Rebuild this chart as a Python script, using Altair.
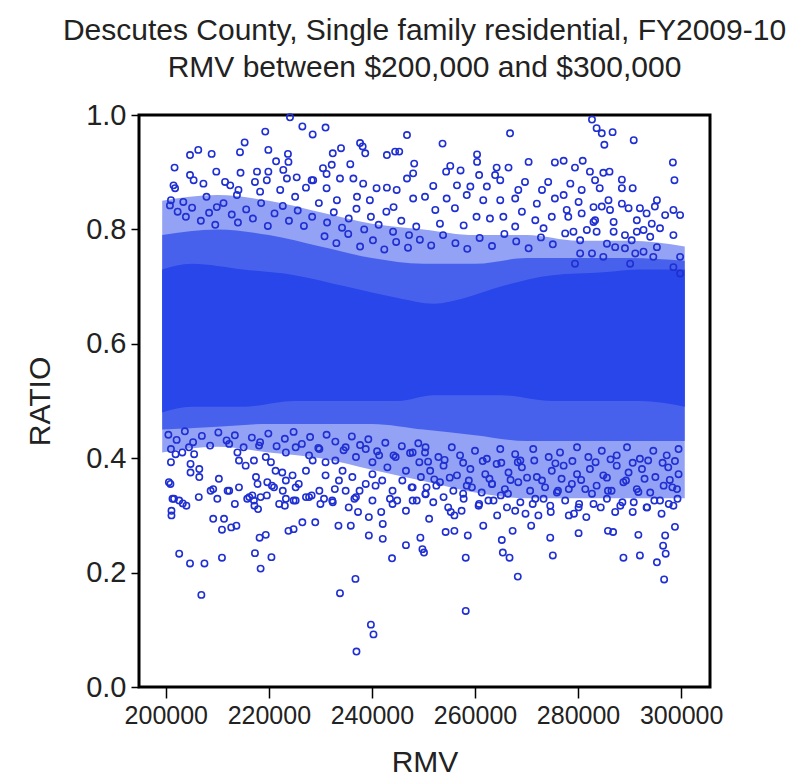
import altair as alt
import pandas as pd

FONT = "Liberation Sans"
PT = "#1f2fd2"
CORE = "#2846ea"

# ---- dense core of the cloud (solid band) ----
core_rmv = [199300, 205000, 215000, 225000, 235000, 245000, 252000, 258000, 265000, 275000, 285000, 292000, 300700]
core_high = [0.73, 0.74, 0.73, 0.72, 0.70, 0.68, 0.67, 0.68, 0.70, 0.72, 0.725, 0.73, 0.73]
core_low = [0.48, 0.49, 0.49, 0.50, 0.50, 0.50, 0.51, 0.51, 0.51, 0.50, 0.50, 0.50, 0.49]

# ---- semi-dense fringe around the core ----
fringe_rmv = [199300, 210000, 220000, 230000, 240000, 250000, 260000, 270000, 280000, 290000, 300700]
inner_high = [0.79, 0.80, 0.79, 0.77, 0.75, 0.74, 0.74, 0.75, 0.75, 0.75, 0.745]
inner_low = [0.45, 0.455, 0.46, 0.46, 0.46, 0.45, 0.44, 0.43, 0.43, 0.43, 0.43]
outer_high = [0.85, 0.86, 0.85, 0.83, 0.81, 0.80, 0.79, 0.79, 0.78, 0.78, 0.77]
outer_low = [0.41, 0.42, 0.41, 0.40, 0.38, 0.36, 0.34, 0.33, 0.33, 0.33, 0.33]

# ---- scattered points above the core ----
upper_rmv = [
    224100, 226500, 228500, 231000, 219300, 215300, 206300, 204700, 208900, 214400,
    219900, 223700, 221400, 223800, 201700, 209800, 214500, 217700, 219900, 222800,
    225400, 228300, 230500, 231200, 232200, 232400, 234000, 235800, 237700, 238200,
    238700, 242900, 244500, 245300, 246800, 248200, 248000, 236400, 238300, 201500,
    204700, 205400, 201800, 207300, 211500, 212500, 214100, 217300, 219600, 223500,
    227200, 228600, 233800, 237100, 240900, 242900, 244800, 246800, 201000, 203400,
    207900, 209900, 213800, 218300, 222200, 225100, 231200, 233200, 239600, 244200,
    248000,
    282700, 283600, 266800, 253700, 260400, 260400, 270400, 275500, 277200, 280900,
    255200, 264200, 266500, 279400, 282300, 254400, 257200, 260800, 263900, 264900,
    269700, 274200, 278500, 283300, 251900, 256500, 259100, 262300, 268400, 273000,
    277200, 280700, 250300, 254500, 258400, 261600, 264900, 267800, 272000, 275500,
    280100, 283000, 252300, 256100, 260300, 262900, 265500, 269100, 271700, 274900,
    277800, 280700, 283300, 253200, 257800, 267800, 273300, 279100, 281700,
    284600, 286700, 290800, 285100, 298400, 298700, 284900, 286100, 288500, 290600,
    288500, 284200, 285900, 284600, 286200, 288500, 289800, 292000, 293300, 295300,
    294900, 296900, 298500, 299800, 278100, 283000, 286900, 291400, 294300, 295900,
    298500, 299800, 277500, 280400, 283600, 285600, 286900, 289100, 290400, 291400,
    292700, 294000, 295300, 291100, 292700, 287200, 289100, 284900, 282700, 280400,
    279400, 290100, 294600, 298500, 299800,
    200800, 202300, 203900, 205100, 206800, 208400, 209600, 211200, 212800, 214000,
    215600, 216900, 218500, 219800, 221100, 222700, 223900, 225600, 226800, 228400,
    229700, 231300, 232600, 234200, 235500, 237000, 238500, 239800, 241300, 242800,
    244100, 245700, 247200, 248600,
    230800, 233100, 235400, 237700, 240200, 242400, 244700, 247000, 249300, 251500,
    253800, 256200, 258500, 260900, 263300, 265700, 268000, 270400, 272800, 275100,
]
upper_ratio = [
    0.996, 0.980, 0.966, 0.978, 0.971, 0.952, 0.939, 0.930, 0.932, 0.935,
    0.939, 0.932, 0.919, 0.918, 0.908, 0.901, 0.899, 0.901, 0.901, 0.904,
    0.891, 0.886, 0.907, 0.897, 0.913, 0.933, 0.942, 0.914, 0.951, 0.945,
    0.933, 0.930, 0.936, 0.936, 0.965, 0.915, 0.898, 0.889, 0.880, 0.877,
    0.895, 0.886, 0.872, 0.880, 0.883, 0.877, 0.869, 0.883, 0.886, 0.889,
    0.873, 0.886, 0.889, 0.857, 0.872, 0.873, 0.869, 0.889, 0.851, 0.848,
    0.857, 0.839, 0.860, 0.866, 0.869, 0.857, 0.872, 0.851, 0.851, 0.839,
    0.854,
    0.992, 0.977, 0.968, 0.950, 0.931, 0.918, 0.918, 0.917, 0.920, 0.920,
    0.911, 0.908, 0.908, 0.908, 0.901, 0.901, 0.903, 0.895, 0.895, 0.886,
    0.883, 0.883, 0.880, 0.886, 0.876, 0.877, 0.875, 0.875, 0.869, 0.869,
    0.860, 0.869, 0.857, 0.854, 0.860, 0.851, 0.851, 0.854, 0.845, 0.854,
    0.848, 0.839, 0.834, 0.837, 0.822, 0.819, 0.822, 0.831, 0.816, 0.822,
    0.834, 0.828, 0.816, 0.810, 0.807, 0.805, 0.802, 0.796, 0.799,
    0.968, 0.970, 0.956, 0.948, 0.917, 0.886, 0.899, 0.901, 0.887, 0.872,
    0.872, 0.872, 0.851, 0.840, 0.834, 0.845, 0.837, 0.837, 0.828, 0.851,
    0.840, 0.825, 0.834, 0.825, 0.822, 0.813, 0.813, 0.816, 0.810, 0.802,
    0.790, 0.752, 0.793, 0.781, 0.796, 0.775, 0.796, 0.790, 0.781, 0.796,
    0.799, 0.787, 0.769, 0.758, 0.761, 0.769, 0.767, 0.752, 0.758, 0.758,
    0.740, 0.740, 0.752, 0.734, 0.723,
    0.842, 0.831, 0.822, 0.838, 0.815, 0.829, 0.808, 0.846, 0.826, 0.812,
    0.835, 0.819, 0.846, 0.806, 0.828, 0.841, 0.815, 0.833, 0.806, 0.822,
    0.846, 0.812, 0.830, 0.803, 0.819, 0.836, 0.800, 0.822, 0.808, 0.831,
    0.796, 0.815, 0.790, 0.805,
    0.788, 0.776, 0.792, 0.770, 0.781, 0.765, 0.778, 0.768, 0.782, 0.772,
    0.790, 0.776, 0.766, 0.785, 0.771, 0.792, 0.779, 0.767, 0.786, 0.774,
]

# ---- scattered points below the core ----
lower_rmv = [
    201000, 201900, 203200, 204500, 205500, 201000, 204800, 206500, 200600, 201300,
    202600, 204800, 206500, 210300, 208700, 210000, 212300, 214200, 216200, 217100,
    218400, 212300, 213900, 214200, 215500, 217100, 218100, 219400, 220400, 221300,
    222600, 217500, 217800, 219700, 221000, 223300, 224600, 225200, 227200, 228500,
    223300, 225200, 227800, 229800, 231000, 232900, 234300, 233600, 231000, 229800,
    227800, 225200, 223300, 222000, 234900, 236900, 238800, 240100, 241400, 243000,
    244600, 246600, 247900, 249200, 250400, 236200, 238800, 240100, 242000, 244000,
    245900, 247900, 249500, 250400, 236900, 240100, 244000, 247900, 232300, 234900,
    250300, 252900, 255500, 257100, 260000, 262300, 264900, 267800, 268800, 271300,
    274300, 276500, 279800, 282000, 284600, 287500, 289500, 292000, 294600, 297200, 299500,
    251300, 253900, 256500, 259100, 262000, 264200, 266500, 269100, 272000, 274900,
    277200, 279800, 282300, 284900, 287500, 289800, 292400, 295000, 297500, 299500,
    250600, 253200, 255800, 258400, 261300, 263300, 265800, 268400, 270700, 273600,
    275900, 278800, 281400, 283600, 286500, 288800, 291400, 294000, 296600, 299200,
    251900, 254800, 257800, 260700, 263600, 266200, 268800, 271700, 274600, 277500,
    280100, 283000, 285600, 288200, 290800, 293300, 295900, 298500,
    200900, 209200, 212000, 213400, 215800, 216800, 217200, 217900, 219600, 220600,
    222700, 223100, 224800, 225800, 227200, 228300, 230000, 230700, 232400, 232800,
    236600, 235500, 237300, 239400, 237600, 240700, 241800, 242100, 243500, 244900,
    246600, 247700, 248700, 250400, 251100, 252500, 253900, 255300, 256000, 257400,
    257700, 259400, 260800, 262600, 263300, 264300, 265000, 266400, 267800, 269800,
    271200, 272300, 273300, 274700, 276100, 278200, 279200, 280200, 281600, 282700,
    284400, 285800, 287200, 288600, 290600, 291700, 293400, 294800, 296200, 297600,
    298300, 299300,
    202600, 204700, 207500, 210900, 206900, 217300, 218400, 220500, 218200, 219400,
    210900, 212700, 213700, 201100, 201100, 201600, 203300, 204000, 206400, 209200,
    211300, 233800, 236800, 237000, 239800, 240300, 258200, 258200, 243900, 246600,
    249800, 250100, 249400, 265400, 266700, 268300, 265200, 267300, 275100, 274600,
    288800, 292000, 295300, 296700, 297000, 296500, 296900, 291700, 285800, 286800,
    280100, 261600, 258600, 254300, 256000, 239400, 242100, 233500, 235900, 226500,
    229000, 223800, 224800, 298800, 270900, 278200,
    200500, 202100, 203700, 205300, 207000, 208600, 210200, 211800, 213400, 215100,
    216700, 218300, 219900, 221500, 223100, 224800, 226400, 228000, 229600, 231200,
    232900, 234500, 236100, 237700, 239300, 241000, 242600, 244200, 245800, 247400, 249000,
    250900, 254100, 257700, 261500, 265100, 268300, 271500, 275600, 278900, 283400,
    286300, 290600, 293600, 296400, 298800,
    252100, 255100, 258800, 262800, 266900, 270100, 273000, 276800, 280600, 285600,
    289300, 292900, 297800,
]
lower_ratio = [
    0.416, 0.407, 0.410, 0.419, 0.407, 0.393, 0.390, 0.381, 0.358, 0.329,
    0.326, 0.375, 0.367, 0.364, 0.343, 0.329, 0.343, 0.349, 0.332, 0.326,
    0.332, 0.425, 0.410, 0.396, 0.387, 0.396, 0.422, 0.402, 0.393, 0.378,
    0.375, 0.367, 0.355, 0.358, 0.349, 0.361, 0.370, 0.349, 0.378, 0.396,
    0.410, 0.419, 0.405, 0.416, 0.393, 0.396, 0.378, 0.361, 0.370, 0.343,
    0.332, 0.326, 0.329, 0.320, 0.419, 0.402, 0.416, 0.393, 0.405, 0.384,
    0.402, 0.378, 0.410, 0.393, 0.419, 0.367, 0.355, 0.372, 0.361, 0.343,
    0.361, 0.349, 0.367, 0.337, 0.332, 0.326, 0.320, 0.326, 0.326, 0.343,
    0.410, 0.402, 0.419, 0.405, 0.413, 0.399, 0.416, 0.407, 0.396, 0.416,
    0.402, 0.410, 0.419, 0.402, 0.413, 0.405, 0.419, 0.399, 0.413, 0.405, 0.416,
    0.378, 0.387, 0.370, 0.381, 0.372, 0.390, 0.375, 0.384, 0.367, 0.378,
    0.387, 0.372, 0.381, 0.370, 0.387, 0.375, 0.381, 0.367, 0.384, 0.372,
    0.349, 0.358, 0.343, 0.352, 0.340, 0.355, 0.346, 0.358, 0.343, 0.349,
    0.340, 0.355, 0.346, 0.352, 0.343, 0.358, 0.346, 0.340, 0.352, 0.346,
    0.323, 0.314, 0.329, 0.317, 0.326, 0.314, 0.323, 0.329, 0.317, 0.326,
    0.314, 0.320, 0.329, 0.317, 0.323, 0.314, 0.326, 0.317,
    0.355, 0.346, 0.343, 0.320, 0.329, 0.335, 0.317, 0.311, 0.335, 0.352,
    0.343, 0.317, 0.326, 0.355, 0.332, 0.335, 0.320, 0.329, 0.323, 0.346,
    0.329, 0.314, 0.306, 0.297, 0.343, 0.352, 0.306, 0.285, 0.329, 0.326,
    0.308, 0.349, 0.326, 0.338, 0.294, 0.352, 0.332, 0.306, 0.300, 0.308,
    0.338, 0.349, 0.320, 0.326, 0.355, 0.300, 0.335, 0.338, 0.308, 0.303,
    0.320, 0.300, 0.329, 0.306, 0.343, 0.346, 0.303, 0.320, 0.297, 0.338,
    0.314, 0.343, 0.306, 0.323, 0.306, 0.341, 0.314, 0.326, 0.303, 0.320,
    0.349, 0.329,
    0.233, 0.216, 0.216, 0.226, 0.161, 0.234, 0.207, 0.227, 0.261, 0.266,
    0.275, 0.279, 0.282, 0.308, 0.300, 0.329, 0.321, 0.317, 0.332, 0.294,
    0.294, 0.164, 0.189, 0.062, 0.109, 0.092, 0.133, 0.226, 0.225, 0.248,
    0.241, 0.235, 0.261, 0.235, 0.226, 0.193, 0.257, 0.273, 0.230, 0.261,
    0.226, 0.230, 0.218, 0.188, 0.233, 0.247, 0.265, 0.266, 0.273, 0.271,
    0.269, 0.282, 0.265, 0.271, 0.273, 0.265, 0.259, 0.282, 0.282, 0.288,
    0.288, 0.273, 0.276, 0.280, 0.282, 0.300,
    0.441, 0.432, 0.447, 0.428, 0.439, 0.422, 0.445, 0.431, 0.440, 0.419,
    0.436, 0.428, 0.443, 0.421, 0.434, 0.446, 0.425, 0.437, 0.418, 0.441,
    0.429, 0.414, 0.438, 0.423, 0.433, 0.412, 0.427, 0.405, 0.421, 0.409, 0.426,
    0.394, 0.397, 0.392, 0.395, 0.392, 0.393, 0.396, 0.391, 0.395, 0.393,
    0.398, 0.392, 0.396, 0.392, 0.395,
    0.363, 0.366, 0.361, 0.364, 0.362, 0.366, 0.361, 0.364, 0.362, 0.366,
    0.361, 0.364, 0.362,
]

x_ticks = [200000, 220000, 240000, 260000, 280000, 300000]
y_ticks = [0.0, 0.2, 0.4, 0.6, 0.8, 1.0]
title_lines = ["Descutes County, Single family residential, FY2009-10",
               "RMV between $200,000 and $300,000"]

pts = pd.DataFrame({"RMV": upper_rmv + lower_rmv, "RATIO": upper_ratio + lower_ratio})
core = pd.DataFrame({"RMV": core_rmv, "hi": core_high, "lo": core_low})
fringe = pd.DataFrame({"RMV": fringe_rmv, "ihi": inner_high, "ilo": inner_low,
                       "ohi": outer_high, "olo": outer_low})

xs = alt.Scale(domain=[194800, 305600], nice=False, zero=False)
ys = alt.Scale(domain=[0, 1], nice=False, zero=False)

xax = alt.Axis(values=x_ticks, format="d", title="RMV", grid=False, domain=False,
               tickSize=11, tickWidth=1.5, tickColor="black", labelFontSize=25,
               labelFont=FONT, labelColor="#222", labelPadding=5, titleFont=FONT,
               titleFontSize=30, titleFontWeight="normal", titleColor="#222",
               titlePadding=19, labelFlush=False)
yax = alt.Axis(values=y_ticks, format=".1f", title="RATIO", grid=False, domain=False,
               tickSize=8, tickWidth=1.5, tickColor="black", labelFontSize=29,
               labelFont=FONT, labelColor="#222", labelPadding=5, titleFont=FONT,
               titleFontSize=30, titleFontWeight="normal", titleColor="#222",
               titlePadding=30, labelFlush=False)

outer = alt.Chart(fringe).mark_area(color=CORE, opacity=0.5, orient="vertical",
                                    interpolate="monotone").encode(
    x=alt.X("RMV:Q", scale=xs, axis=xax), y=alt.Y("ohi:Q", scale=ys, axis=yax), y2="olo:Q")
inner = alt.Chart(fringe).mark_area(color=CORE, opacity=0.7, orient="vertical",
                                    interpolate="monotone").encode(
    x=alt.X("RMV:Q", scale=xs), y=alt.Y("ihi:Q", scale=ys), y2="ilo:Q")
solid = alt.Chart(core).mark_area(color=CORE, opacity=1, orient="vertical",
                                  interpolate="monotone").encode(
    x=alt.X("RMV:Q", scale=xs), y=alt.Y("hi:Q", scale=ys), y2="lo:Q")
dots = alt.Chart(pts).mark_point(shape="circle", filled=False, size=40, strokeWidth=1.6,
                                 color=PT, opacity=1).encode(
    x=alt.X("RMV:Q", scale=xs), y=alt.Y("RATIO:Q", scale=ys))

chart = alt.layer(outer, inner, solid, dots).properties(
    width=571, height=572,
    autosize=alt.AutoSizeParams(type="none"),
    padding={"left": 131, "top": 107, "right": 86, "bottom": 93},
    title=alt.TitleParams(text=title_lines, font=FONT, fontSize=30, fontWeight="normal",
                          color="#222", anchor="middle", lineHeight=37, offset=18),
).configure(background="white",
            view=alt.ViewConfig(stroke="black", strokeWidth=3))

chart.save("out.html", embed_options={"renderer": "svg", "actions": False})
